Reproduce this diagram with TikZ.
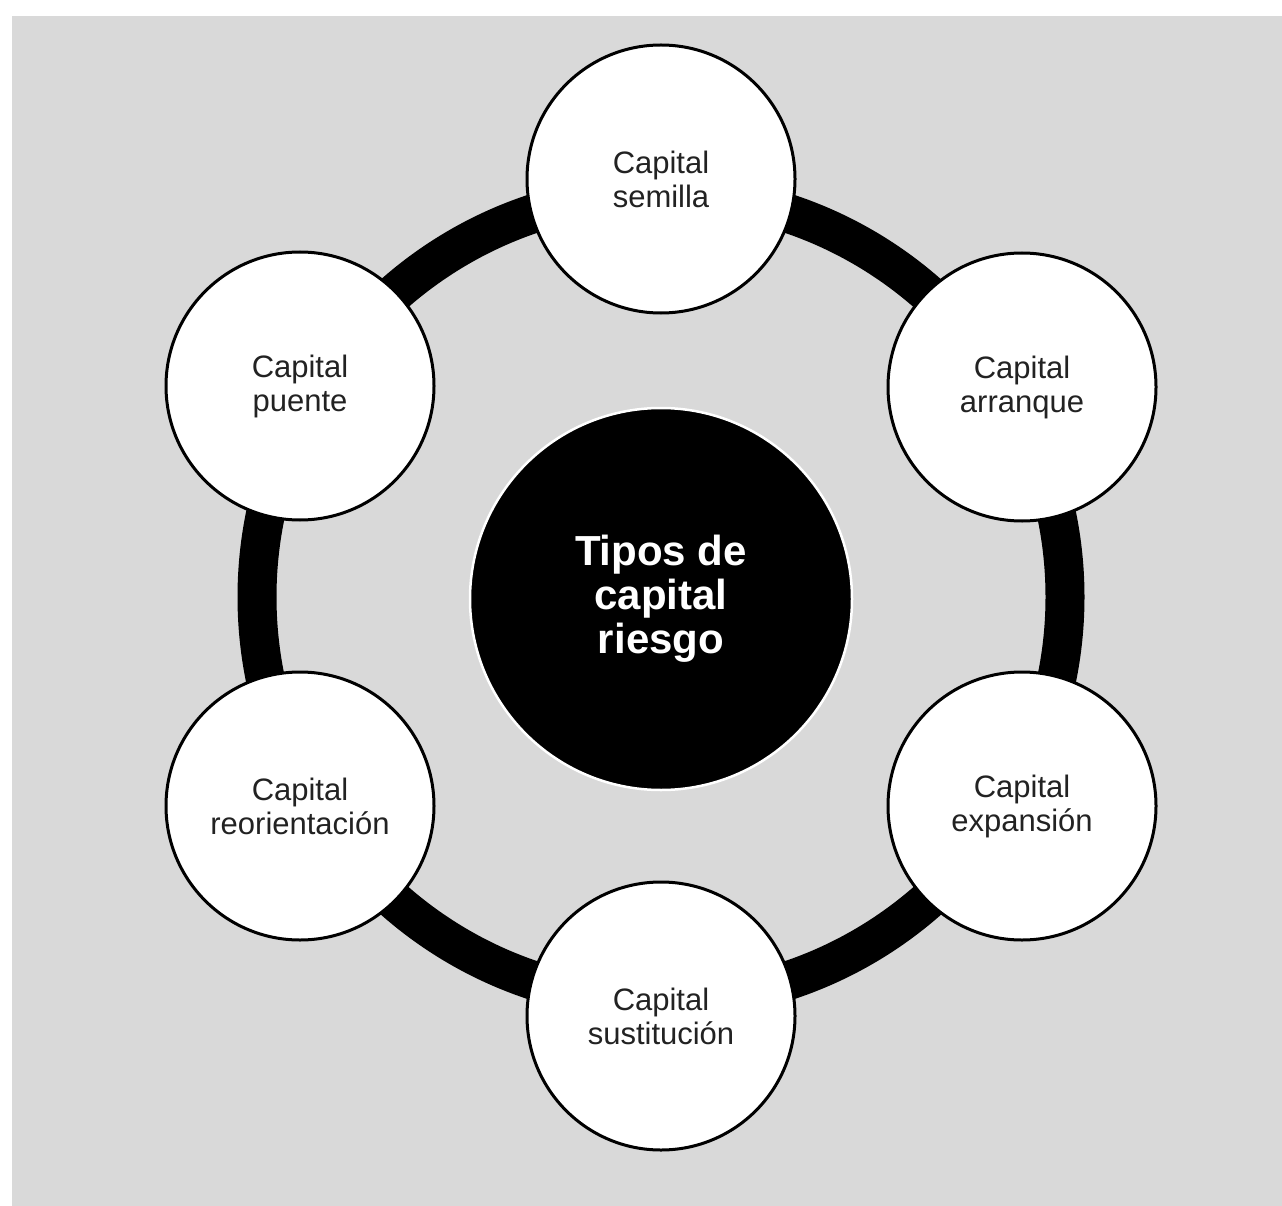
\documentclass[tikz,border=0pt]{standalone}
\usepackage{fontspec}
\setmainfont{Liberation Sans}
\definecolor{bggray}{HTML}{D9D9D9}
\definecolor{txtgray}{HTML}{222222}
\tikzset{
  outer/.style={circle, draw=black, line width=3pt, fill=white, minimum size=268pt,
    inner sep=0pt, align=center, text=txtgray, font=\fontsize{31}{34}\selectfont},
  hub/.style={circle, draw=white, line width=2.5pt, fill=black, minimum size=382pt,
    inner sep=0pt, align=center, text=white, font=\fontsize{42}{44}\selectfont\bfseries},
  ring/.style={draw=black, line width=39pt}
}
\begin{document}
\begin{tikzpicture}[x=1pt, y=-1pt]
\useasboundingbox (0,0) rectangle (1282,1206);
\fill[white] (0,0) rectangle (1282,1206);
\fill[bggray] (12,16) rectangle (1282,1206);
\coordinate (c) at (661,597);
\draw[ring] (c) circle (404);
\node[hub] (hub) at (661,599) {Tipos de\\capital\\riesgo};
\node[outer] (semilla) at (661,179) {Capital\\semilla};
\node[outer] (arranque) at (1022,387) {Capital\\arranque};
\node[outer] (expansion) at (1022,806) {Capital\\expansión};
\node[outer] (sustitucion) at (661,1016) {Capital\\sustitución};
\node[outer] (reorientacion) at (300,806) {Capital\\reorientación};
\node[outer] (puente) at (300,386) {Capital\\puente};
\end{tikzpicture}
\end{document}
